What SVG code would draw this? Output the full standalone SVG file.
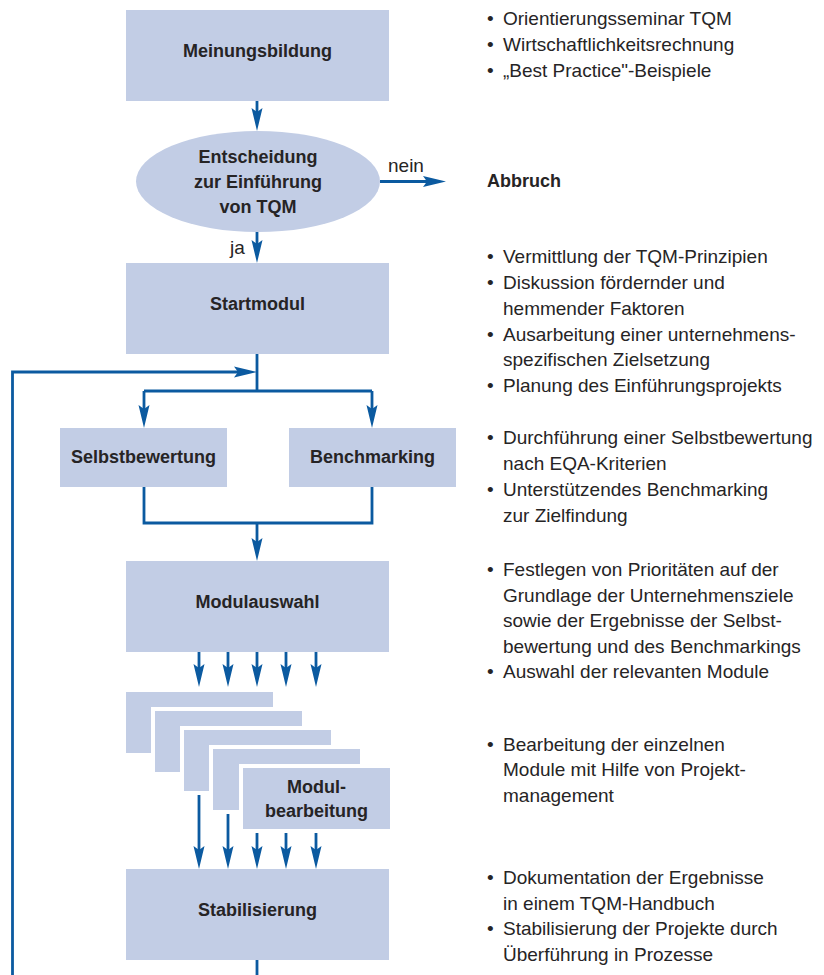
<svg xmlns="http://www.w3.org/2000/svg" width="824" height="975" viewBox="0 0 824 975">
  <style>
    .box { fill: #c2cde5; }
    .gap { fill: #ffffff; }
    .lbl { font-family: "Liberation Sans", Arial, sans-serif; font-weight: bold; font-size: 18px; fill: #262425; text-anchor: middle; }
    .txt { font-family: "Liberation Sans", Arial, sans-serif; font-size: 19px; fill: #262425; }
    .bold { font-weight: bold; font-size: 18px; }
    .wire { fill: none; stroke: #0b5aa0; stroke-width: 2.8; }
    .arr { fill: none; stroke: #0b5aa0; stroke-width: 2.8; marker-end: url(#head); }
  </style>
  <defs>
    <marker id="head" markerUnits="userSpaceOnUse" viewBox="-14 -6 25 12" refX="0" refY="0" markerWidth="25" markerHeight="12" orient="auto">
      <path d="M10,0 L-13,-5.5 L-9,0 L-13,5.5 Z" fill="#0b5aa0"/>
    </marker>
  </defs>

  <!-- connectors -->
  <g id="connectors">
    <path class="arr" d="M257,101 V121"/>
    <path class="arr" d="M380,181.5 H436"/>
    <path class="arr" d="M257,232 V253"/>
    <path class="wire" d="M257,354 V391"/>
    <path class="arr" d="M12.5,975 V372 H247"/>
    <path class="wire" d="M144,391 H372"/>
    <path class="arr" d="M144,391 V418"/>
    <path class="arr" d="M372,391 V418"/>
    <path class="wire" d="M144,487 V523 H372 V487"/>
    <path class="arr" d="M257,523 V551"/>
    <path class="arr" d="M199,651 V677"/>
    <path class="arr" d="M228,651 V677"/>
    <path class="arr" d="M257,651 V677"/>
    <path class="arr" d="M286,651 V677"/>
    <path class="arr" d="M316,651 V677"/>
    <path class="arr" d="M199,795 V859"/>
    <path class="arr" d="M228,814 V859"/>
    <path class="arr" d="M257,833 V859"/>
    <path class="arr" d="M286,833 V859"/>
    <path class="arr" d="M316,833 V859"/>
    <path class="wire" d="M257,960 V975"/>
    <text class="txt" x="388" y="172">nein</text>
    <text class="txt" x="230" y="254">ja</text>
  </g>

  <g id="meinungsbildung">
    <rect class="box" x="126" y="10" width="263" height="91"/>
    <text class="lbl" x="257.5" y="57">Meinungsbildung</text>
  </g>

  <g id="entscheidung">
    <ellipse class="box" cx="258" cy="181.5" rx="122" ry="50.5"/>
    <text class="lbl" x="258" y="163">Entscheidung</text>
    <text class="lbl" x="258" y="188">zur Einführung</text>
    <text class="lbl" x="258" y="213">von TQM</text>
  </g>

  <g id="abbruch">
    <text class="txt bold" x="487" y="187">Abbruch</text>
  </g>

  <g id="startmodul">
    <rect class="box" x="126" y="263" width="263" height="91"/>
    <text class="lbl" x="257.5" y="310">Startmodul</text>
  </g>

  <g id="selbstbewertung">
    <rect class="box" x="60" y="428" width="167" height="59"/>
    <text class="lbl" x="143.5" y="463">Selbstbewertung</text>
  </g>

  <g id="benchmarking">
    <rect class="box" x="289" y="428" width="167" height="59"/>
    <text class="lbl" x="372.5" y="463">Benchmarking</text>
  </g>

  <g id="modulauswahl">
    <rect class="box" x="126" y="561" width="263" height="91"/>
    <text class="lbl" x="257.5" y="608">Modulauswahl</text>
  </g>

  <!-- stacked module cards, each with a white margin over the card behind -->
  <g id="modulbearbeitung">
    <rect class="box" x="126" y="692" width="147" height="61"/>
    <rect class="gap" x="151" y="707" width="151" height="65"/>
    <rect class="box" x="155" y="711" width="147" height="61"/>
    <rect class="gap" x="180" y="726" width="151" height="65"/>
    <rect class="box" x="184" y="730" width="147" height="61"/>
    <rect class="gap" x="209" y="745" width="151" height="65"/>
    <rect class="box" x="213" y="749" width="147" height="61"/>
    <rect class="gap" x="239" y="764" width="151" height="65"/>
    <rect class="box" x="243" y="768" width="147" height="61"/>
    <text class="lbl" x="316.5" y="793">Modul-</text>
    <text class="lbl" x="316.5" y="817">bearbeitung</text>
  </g>

  <g id="stabilisierung">
    <rect class="box" x="126" y="869" width="263" height="91"/>
    <text class="lbl" x="257.5" y="916">Stabilisierung</text>
  </g>

  <!-- notes beside each step -->
  <g id="notes" class="txt">
    <text x="487" y="25">•</text><text x="503" y="25">Orientierungsseminar TQM</text>
    <text x="487" y="51">•</text><text x="503" y="51">Wirtschaftlichkeitsrechnung</text>
    <text x="487" y="77">•</text><text x="503" y="77">„Best Practice"-Beispiele</text>

    <text x="487" y="263">•</text><text x="503" y="263">Vermittlung der TQM-Prinzipien</text>
    <text x="487" y="289">•</text><text x="503" y="289">Diskussion fördernder und</text>
    <text x="503" y="315">hemmender Faktoren</text>
    <text x="487" y="341">•</text><text x="503" y="341">Ausarbeitung einer unternehmens-</text>
    <text x="503" y="366">spezifischen Zielsetzung</text>
    <text x="487" y="392">•</text><text x="503" y="392">Planung des Einführungsprojekts</text>

    <text x="487" y="444">•</text><text x="503" y="444">Durchführung einer Selbstbewertung</text>
    <text x="503" y="470">nach EQA-Kriterien</text>
    <text x="487" y="496">•</text><text x="503" y="496">Unterstützendes Benchmarking</text>
    <text x="503" y="522">zur Zielfindung</text>

    <text x="487" y="576">•</text><text x="503" y="576">Festlegen von Prioritäten auf der</text>
    <text x="503" y="602">Grundlage der Unternehmensziele</text>
    <text x="503" y="627">sowie der Ergebnisse der Selbst-</text>
    <text x="503" y="653">bewertung und des Benchmarkings</text>
    <text x="487" y="678">•</text><text x="503" y="678">Auswahl der relevanten Module</text>

    <text x="487" y="751">•</text><text x="503" y="751">Bearbeitung der einzelnen</text>
    <text x="503" y="776">Module mit Hilfe von Projekt-</text>
    <text x="503" y="802">management</text>

    <text x="487" y="884">•</text><text x="503" y="884">Dokumentation der Ergebnisse</text>
    <text x="503" y="910">in einem TQM-Handbuch</text>
    <text x="487" y="935">•</text><text x="503" y="935">Stabilisierung der Projekte durch</text>
    <text x="503" y="961">Überführung in Prozesse</text>
  </g>
</svg>
